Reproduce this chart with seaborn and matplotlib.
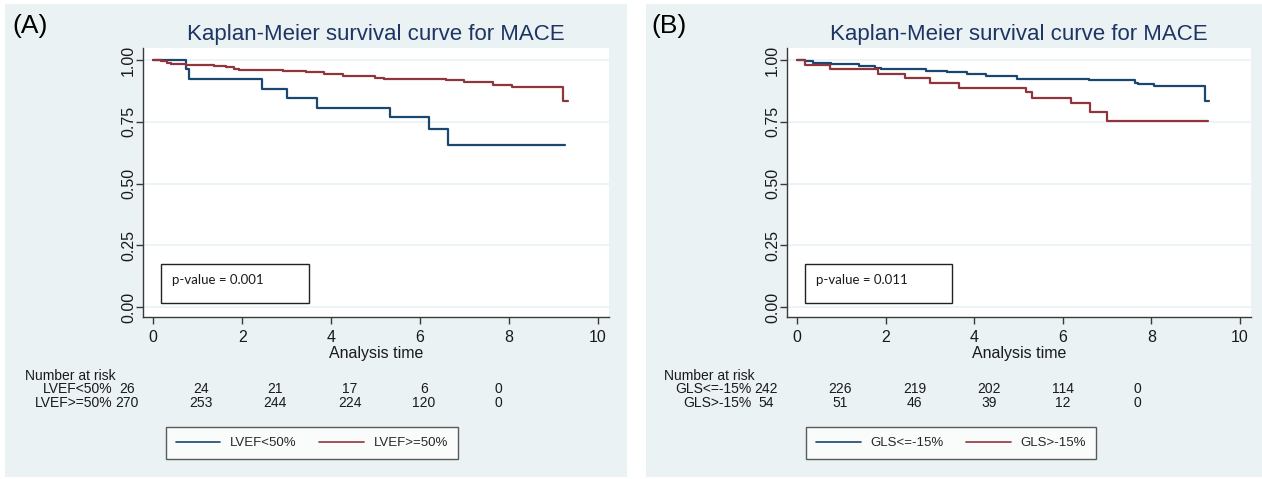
import numpy as np
import pandas as pd
import matplotlib
matplotlib.use('Agg')
import matplotlib.pyplot as plt
from matplotlib.patches import Rectangle
from matplotlib.lines import Line2D
import seaborn as sns

# ---------- dados ----------
# Painel A - LVEF
tempo_lvef_baixo = [0, 0.74, 0.81, 2.45, 3.01, 3.68, 5.32, 6.20, 6.63, 9.26]
surv_lvef_baixo  = [1.0, 0.962, 0.923, 0.885, 0.846, 0.808, 0.768, 0.722, 0.657, 0.657]
tempo_lvef_alto  = [0, 0.17, 0.32, 0.40, 0.74, 1.37, 1.64, 1.82, 1.94, 2.91, 3.44,
                    3.85, 4.26, 4.98, 5.20, 6.59, 7.00, 7.64, 8.06, 9.22, 9.32]
surv_lvef_alto   = [1.0, 0.996, 0.989, 0.984, 0.981, 0.978, 0.973, 0.966, 0.960, 0.955, 0.950,
                    0.945, 0.937, 0.928, 0.923, 0.919, 0.912, 0.901, 0.892, 0.833, 0.833]
# Painel B - GLS
tempo_gls_normal = [0, 0.17, 0.35, 0.77, 1.40, 1.76, 1.90, 2.91, 3.39, 3.84, 4.26,
                    4.97, 6.58, 7.64, 7.70, 8.05, 9.21, 9.31]
surv_gls_normal  = [1.0, 0.996, 0.989, 0.984, 0.978, 0.970, 0.962, 0.955, 0.950, 0.943, 0.935,
                    0.925, 0.919, 0.908, 0.904, 0.896, 0.835, 0.835]
tempo_gls_alter  = [0, 0.17, 0.73, 1.82, 2.43, 3.00, 3.66, 5.17, 5.31, 6.19, 6.61, 7.00, 9.29]
surv_gls_alter   = [1.0, 0.981, 0.964, 0.945, 0.927, 0.908, 0.887, 0.869, 0.848, 0.828,
                    0.790, 0.753, 0.753]

grupos_a = ['LVEF<50%', 'LVEF>=50%']
grupos_b = ['GLS<=-15%', 'GLS>-15%']
risco_lvef_baixo = [26, 24, 21, 17, 6, 0]
risco_lvef_alto  = [270, 253, 244, 224, 120, 0]
risco_gls_normal = [242, 226, 219, 202, 114, 0]
risco_gls_alter  = [54, 51, 46, 39, 12, 0]
pvalor_a = 'p-value = 0.001'
pvalor_b = 'p-value = 0.011'
titulo = 'Kaplan-Meier survival curve for MACE'
y_ticks = [0, 0.25, 0.5, 0.75, 1.0]
x_ticks = [0, 2, 4, 6, 8, 10]

# ---------- estilo ----------
sns.set_theme(style='white')
plt.rcParams['font.family'] = ['Liberation Sans', 'DejaVu Sans']

W, H = 1262, 479
cor_fundo = '#EAF2F3'
cor_azul  = '#1A476F'
cor_verm  = '#90353B'
cor_texto = '#1a1a1a'
cor_titulo = '#1E3465'

fig = plt.figure(figsize=(W / 100, H / 100), dpi=100, facecolor='white')

def fx(x):
    return x / W

def fy(y):
    return 1 - y / H

# fundo dos paineis
fig.add_artist(Rectangle((fx(5), fy(477)), 622 / W, 473 / H, transform=fig.transFigure,
                         facecolor=cor_fundo, edgecolor='none', zorder=-5))
fig.add_artist(Rectangle((fx(646), fy(477)), 616 / W, 473 / H, transform=fig.transFigure,
                         facecolor=cor_fundo, edgecolor='none', zorder=-5))


def painel(left, width, off, letra, curvas, nomes, riscos, pvalor, leg_centro, pv_box):
    ax = fig.add_axes([fx(left), fy(317), width / W, 269 / H])
    ax.set_facecolor('white')
    for (t, s), cor in zip(curvas, [cor_azul, cor_verm]):
        df = pd.DataFrame({'t': t, 's': s})
        sns.lineplot(data=df, x='t', y='s', ax=ax, color=cor, linewidth=1.6,
                     drawstyle='steps-post', estimator=None, sort=False)
    ax.set_xlim(-0.23, 10.25)
    ax.set_ylim(-0.04, 1.049)
    ax.set_yticks(y_ticks)
    ax.set_yticklabels([f'{v:.2f}' for v in y_ticks], rotation=90, va='center')
    ax.set_xticks(x_ticks)
    ax.grid(axis='y', color=cor_fundo, linewidth=1.2)
    ax.grid(axis='x', visible=False)
    for sp in ['top', 'right']:
        ax.spines[sp].set_visible(False)
    for sp in ['left', 'bottom']:
        ax.spines[sp].set_color('#3a3a3a')
        ax.spines[sp].set_linewidth(1.0)
    ax.tick_params(direction='out', length=5, width=1, color='#3a3a3a',
                   labelsize=11.5, labelcolor=cor_texto, left=True, bottom=True)
    ax.tick_params(axis='y', pad=0)
    ax.tick_params(axis='x', pad=4)
    ax.set_xlabel('Analysis time', fontsize=11.5, color=cor_texto, labelpad=1)
    ax.set_ylabel('')
    ax.set_title(titulo, fontsize=16, color=cor_titulo, pad=6)

    fig.text(fx(off + 12), fy(26), letra, fontsize=19, color='black', va='center', ha='left')

    # tabela de risco
    fs_risco = 10
    fig.text(fx(off + 25), fy(376), 'Number at risk', fontsize=fs_risco, color=cor_texto,
             va='center', ha='left')
    col0 = off + 127
    for linha, (nome, vals) in enumerate(zip(nomes, riscos)):
        yy = fy(389 + 14 * linha)
        fig.text(fx(col0 - 15), yy, nome, fontsize=fs_risco, color=cor_texto,
                 va='center', ha='right')
        for i, v in enumerate(vals):
            fig.text(fx(col0 + 74.2 * i), yy, str(v), fontsize=fs_risco, color=cor_texto,
                     va='center', ha='center')

    # legenda
    handles = [Line2D([], [], color=cor_azul, linewidth=1.2),
               Line2D([], [], color=cor_verm, linewidth=1.2)]
    cx, cy = leg_centro
    leg = fig.legend(handles, nomes, ncol=2, loc='center',
                     bbox_to_anchor=(fx(cx), fy(cy)),
                     fontsize=9.5, handlelength=3.4, handletextpad=0.75, columnspacing=1.7,
                     frameon=True, fancybox=False, borderpad=0.75, borderaxespad=0)
    leg.get_frame().set_edgecolor('#333333')
    leg.get_frame().set_linewidth(1.0)
    leg.get_frame().set_facecolor('white')

    # caixa do p-valor
    bx0, bx1, by0, by1 = pv_box
    fig.add_artist(Rectangle((fx(bx0), fy(by1)), (bx1 - bx0) / W, (by1 - by0) / H,
                             transform=fig.transFigure, facecolor='white',
                             edgecolor='#222222', linewidth=1.0, zorder=3))
    fig.text(fx(bx0 + 11), fy((by0 + by1) / 2 - 3), pvalor, fontsize=9.5, color=cor_texto,
             family=['Lato', 'DejaVu Sans'], va='center', ha='left', zorder=4)
    return ax


painel(143, 466, 0, '(A)',
       [(tempo_lvef_baixo, surv_lvef_baixo), (tempo_lvef_alto, surv_lvef_alto)],
       grupos_a, [risco_lvef_baixo, risco_lvef_alto], pvalor_a,
       (312, 443), (161, 309, 264, 303))
painel(787, 464, 639, '(B)',
       [(tempo_gls_normal, surv_gls_normal), (tempo_gls_alter, surv_gls_alter)],
       grupos_b, [risco_gls_normal, risco_gls_alter], pvalor_b,
       (951, 443), (805, 952, 264, 303))

fig.savefig('out.png', dpi=100, facecolor='white')
